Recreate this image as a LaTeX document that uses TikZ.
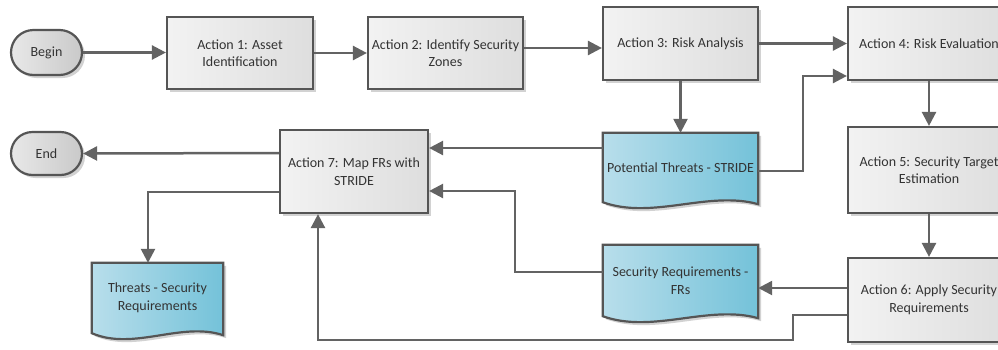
\documentclass[tikz,border=0pt]{standalone}
\usepackage{fontspec}
\setmainfont{Carlito}
\usetikzlibrary{arrows.meta,shadows,calc,shapes.misc}
\definecolor{lc}{HTML}{636363}
\definecolor{bc}{HTML}{555555}
\definecolor{tc}{HTML}{333333}
\definecolor{docL}{HTML}{B8DEEB}
\definecolor{docR}{HTML}{74C2D9}
\pgfdeclarelayer{bg}
\pgfsetlayers{bg,main}
\begin{document}
\begin{tikzpicture}[x=1pt,y=-1pt,
  txt/.style={font=\fontsize{14}{17.5}\selectfont, text=tc, align=center, inner sep=1pt},
  shad/.style={drop shadow={shadow xshift=3pt, shadow yshift=-3pt, opacity=.35, fill=gray}},
  actbox/.style={txt, rectangle, draw=bc, line width=2.2pt, left color=gray!10, middle color=gray!3, right color=gray!26, shad},
  pill/.style={txt, rounded rectangle, draw=bc, line width=2.2pt, left color=gray!18, right color=gray!42, minimum width=73pt, shad},
  docbox/.style={txt, rectangle, draw=none},
  conn/.style={draw=lc, line width=2.5pt, -{Triangle[length=14pt,width=14pt]}}
]
\useasboundingbox (0,0) rectangle (998,349);

% terminals
\node[pill, minimum height=45pt] (begin) at (46.5,52.5) {Begin};
\node[pill, minimum height=43pt] (end) at (46.5,153.5) {End};

% actions
\node[actbox, minimum width=146pt, minimum height=72pt] (a1) at (240,53) {Action 1: Asset\\Identification};
\node[actbox, minimum width=155pt, minimum height=72pt] (a2) at (445.5,53) {Action 2: Identify Security\\Zones};
\node[actbox, minimum width=155pt, minimum height=73pt] (a3) at (680.5,43.5) {Action 3: Risk Analysis};
\node[actbox, minimum width=162pt, minimum height=73pt] (a4) at (929,43.5) {Action 4: Risk Evaluation};
\node[actbox, minimum width=162pt, minimum height=86pt] (a5) at (929,170) {Action 5: Security Target\\Estimation};
\node[actbox, minimum width=162pt, minimum height=84pt] (a6) at (929,300) {Action 6: Apply Security\\Requirements};
\node[actbox, minimum width=148pt, minimum height=83pt] (a7) at (354,171.5) {Action 7: Map FRs with\\STRIDE};

% documents
\node[docbox, minimum width=155pt, minimum height=69pt] (pt) at (680.5,167.5) {\raisebox{-4pt}{Potential Threats - STRIDE}};
\node[docbox, minimum width=155pt, minimum height=71pt] (srfr) at (680.5,280.5) {Security Requirements -\\FRs};
\node[docbox, minimum width=131pt, minimum height=70pt] (tsr) at (157.5,298) {Threats - Security\\Requirements};

\begin{pgfonlayer}{bg}
\fill[white] (0,0) rectangle (998,349);
\foreach \n in {pt,srfr,tsr}{
  \fill[gray, opacity=0.35, transform canvas={xshift=3pt,yshift=-3pt}]
    (\n.north west) -- (\n.north east) -- ($(\n.south east)+(0,2)$)
    .. controls ($(\n.south west)!0.68!(\n.south east)+(0,-12)$) and ($(\n.south west)!0.32!(\n.south east)+(0,18)$) .. (\n.south west) -- cycle;
  \shadedraw[left color=docL, right color=docR, draw=bc, line width=2.2pt]
    (\n.north west) -- (\n.north east) -- ($(\n.south east)+(0,2)$)
    .. controls ($(\n.south west)!0.68!(\n.south east)+(0,-12)$) and ($(\n.south west)!0.32!(\n.south east)+(0,18)$) .. (\n.south west) -- cycle;
}
\end{pgfonlayer}

% connectors
\draw[conn] (begin.east) -- (a1.west |- begin.east);
\draw[conn] (a1.east) -- (a2.west);
\draw[conn] (a2.east |- 0,48) -- (a3.west |- 0,48);
\draw[conn] (a3.east) -- (a4.west);
\draw[conn] (a3.south) -- (pt.north);
\draw[conn] (pt.east |- 0,171) -- (803,171) -- (803,76) -- (a4.west |- 0,76);
\draw[conn] (a4.south) -- (a5.north);
\draw[conn] (a5.south) -- (a6.north);
\draw[conn] (a6.west |- 0,288) -- (srfr.east |- 0,288);
\draw[conn] (srfr.west |- 0,272) -- (515,272) -- (515,191) -- (a7.east |- 0,191);
\draw[conn] (pt.west |- 0,148) -- (a7.east |- 0,148);
\draw[conn] (a6.west |- 0,315) -- (793,315) -- (793,340) -- (318,340) -- (a7.south -| 318,0);
\draw[conn] (a7.west |- 0,153) -- (end.east);
\draw[conn] (a7.west |- 0,192) -- (148,192) -- (tsr.north -| 148,0);
\end{tikzpicture}
\end{document}
